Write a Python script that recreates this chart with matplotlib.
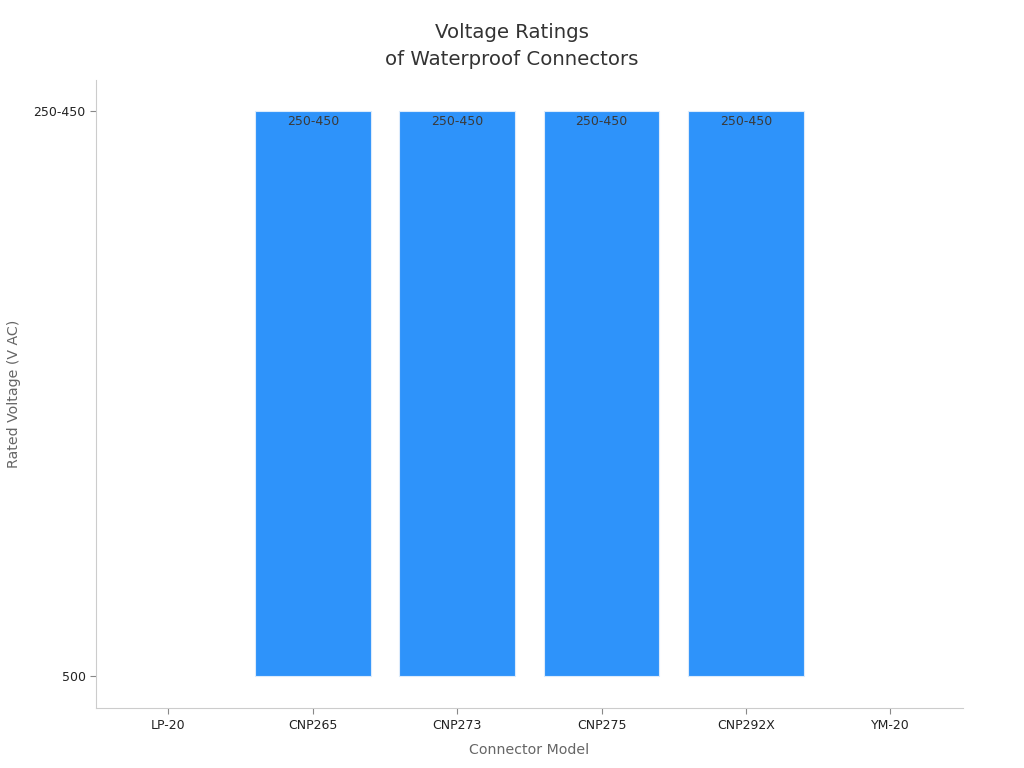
import matplotlib
matplotlib.use("Agg")
import matplotlib.pyplot as plt

models = ["LP-20", "CNP265", "CNP273", "CNP275", "CNP292X", "YM-20"]
voltage_levels = ["500", "250-450"]  # categorical y axis, bottom to top
ratings = ["500", "250-450", "250-450", "250-450", "250-450", "500"]

BAR = "#2E93FA"


def main():
    fig = plt.figure(figsize=(10.24, 7.68), dpi=100)
    ax = fig.add_axes([0.094, 0.078, 0.846, 0.818])

    heights = [voltage_levels.index(r) for r in ratings]
    x = list(range(len(models)))
    bars = ax.bar(x, heights, width=0.8, color=BAR, edgecolor="#dcebfb", linewidth=0.8)
    for b, r, h in zip(bars, ratings, heights):
        if h > 0:
            ax.text(b.get_x() + b.get_width() / 2, h - 0.008, r, ha="center", va="top",
                    fontsize=9, color="#3a3a3a")
        else:
            b.set_linewidth(0)

    ax.set_xlim(-0.5, 5.5)
    ax.set_ylim(-0.057, 1.055)
    ax.set_xticks(x)
    ax.set_xticklabels(models, fontsize=9, color="#222222")
    ax.set_yticks(range(len(voltage_levels)))
    ax.set_yticklabels(voltage_levels, fontsize=9, color="#222222")
    ax.tick_params(axis="both", color="#888888", length=4)
    ax.tick_params(axis="x", pad=4)

    for s in ["top", "right"]:
        ax.spines[s].set_visible(False)
    for s in ["left", "bottom"]:
        ax.spines[s].set_color("#cccccc")

    ax.set_xlabel("Connector Model", fontsize=10.2, color="#666666", labelpad=8)
    ax.set_ylabel("Rated Voltage (V AC)", fontsize=10.2, color="#666666", labelpad=9)
    fig.suptitle("Voltage Ratings\nof Waterproof Connectors", fontsize=14.2, color="#333333",
                 y=0.97, linespacing=1.5)

    fig.savefig("out.png", dpi=100)
    plt.close(fig)


if __name__ == "__main__":
    main()
